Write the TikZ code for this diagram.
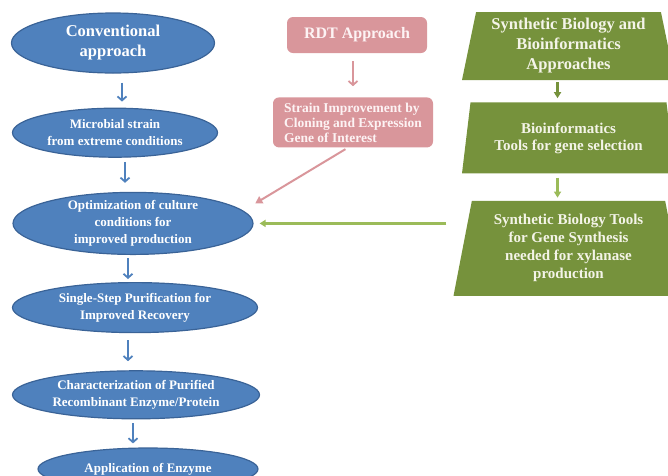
\documentclass[tikz,border=0pt]{standalone}
\usepackage{fontspec}
\setmainfont{Liberation Serif}
\usetikzlibrary{shapes.geometric, arrows.meta, positioning}
\definecolor{ellblue}{HTML}{4F81BD}
\definecolor{ellline}{HTML}{3A6397}
\definecolor{rdtpink}{HTML}{D9969B}
\definecolor{rdttext}{HTML}{FDF3F4}
\definecolor{syngreen}{HTML}{76923C}
\definecolor{synlight}{HTML}{9BBB59}
\definecolor{syntext}{HTML}{F4F4E8}

\tikzset{
  convell/.style={ellipse, draw=ellline, line width=1.2pt, fill=ellblue, text=white,
    font=\bfseries\fontsize{13}{17}\selectfont, align=center, inner xsep=0pt, inner ysep=-2pt},
  rdtbox/.style={rectangle, rounded corners=6pt, fill=rdtpink, text=rdttext,
    font=\bfseries\fontsize{13.5}{15}\selectfont},
  synbox/.style={trapezium, trapezium left angle=77, trapezium right angle=77,
    trapezium stretches body, fill=syngreen, text=syntext, align=center,
    inner xsep=3pt, inner ysep=3pt},
  blueflow/.style={-{Straight Barb[length=4pt,width=9pt]}, draw=ellblue, line width=1.8pt},
  pinkflow/.style={draw=rdtpink, line width=2pt},
  greenflow/.style={draw=syngreen, line width=2.4pt, -{Triangle[length=6pt,width=7pt]}},
}

\begin{document}
\begin{tikzpicture}[x=1pt, y=-1pt]
    \useasboundingbox (0,0) rectangle (668,475);

    % conventional approach
    \node[convell, minimum width=203pt, minimum height=60pt,
      font=\bfseries\fontsize{16.5}{20}\selectfont] (conv) at (113,43) {Conventional\\approach};
    \node[convell, minimum width=205pt, minimum height=49pt] (strain) [below=34pt of conv, xshift=2pt]
      {Microbial strain\\from extreme conditions};
    \node[convell, minimum width=240pt, minimum height=62pt] (optim) [below=34pt of strain, xshift=18pt]
      {Optimization of culture\\conditions for\\improved production};
    \node[convell, minimum width=245pt, minimum height=50pt] (purif) [below=27pt of optim, xshift=2pt]
      {Single-Step Purification for\\Improved Recovery};
    \node[convell, minimum width=247pt, minimum height=48pt] (charac) [below=37pt of purif, xshift=1pt]
      {Characterization of Purified\\Recombinant Enzyme/Protein};
    \node[convell, minimum width=220pt, minimum height=42pt] (appl) [below=28pt of charac, xshift=12pt]
      {Application of Enzyme};

    % RDT approach
    \node[rdtbox, minimum width=140pt, minimum height=36pt,
      font=\bfseries\fontsize{16}{19}\selectfont] (rdt) at (357,35) {RDT Approach};
    \node[rdtbox, minimum width=160pt, minimum height=50pt, inner xsep=9pt, align=left]
      (clone) [below=44pt of rdt, xshift=-4pt]
      {Strain Improvement by\\Cloning and Expression\\Gene of Interest};

    % synthetic biology and bioinformatics
    \node[synbox, minimum width=213pt, minimum height=68pt,
      font=\bfseries\fontsize{16.5}{20}\selectfont] (synbio) at (568.5,46)
      {Synthetic Biology and\\Bioinformatics\\Approaches};
    \node[synbox, minimum width=213pt, minimum height=71pt,
      font=\bfseries\fontsize{15}{17}\selectfont] (bioinf) [below=22pt of synbio]
      {Bioinformatics\\Tools for gene selection};
    \node[synbox, minimum width=230pt, minimum height=95pt, trapezium left angle=76, trapezium right angle=76,
      font=\bfseries\fontsize{15}{18}\selectfont] (gensyn) [below=27pt of bioinf]
      {Synthetic Biology Tools\\for Gene Synthesis\\needed for xylanase\\production};

    % arrows
    \draw[blueflow, shorten <=9pt, shorten >=6pt] ([xshift=9pt]conv.south) -- ([xshift=9pt]conv.south |- strain.north);
    \draw[blueflow, shorten <=4pt, shorten >=9pt] ([xshift=10pt]strain.south) -- ([xshift=10pt]strain.south |- optim.north);
    \draw[blueflow, shorten <=3pt, shorten >=3pt] ([xshift=-5pt]optim.south) -- ([xshift=-5pt]optim.south |- purif.north);
    \draw[blueflow, shorten <=7pt, shorten >=9pt] ([xshift=-7pt]purif.south) -- ([xshift=-7pt]purif.south |- charac.north);
    \draw[blueflow, shorten <=4pt, shorten >=4pt] ([xshift=-3pt]charac.south) -- ([xshift=-3pt]charac.south |- appl.north);

    \draw[blueflow, draw=rdtpink, shorten <=8pt, shorten >=11pt] (rdt.south -| clone.north) -- (clone.north);
    \draw[pinkflow, -{Triangle[length=7pt,width=8pt]}, shorten <=3pt, shorten >=2pt]
      ([xshift=-5pt]clone.south) -- ([yshift=19pt]optim.east);

    \draw[greenflow, shorten <=2pt, shorten >=4pt] ([xshift=-11pt]synbio.south) -- ([xshift=-11pt]bioinf.north);
    \draw[greenflow, draw=synlight, shorten <=4pt, shorten >=3pt] ([xshift=-11pt]bioinf.south) -- ([xshift=-11pt]gensyn.north);
    \draw[greenflow, draw=synlight, line width=2.8pt, shorten <=16pt, shorten >=6pt]
      (gensyn.west |- optim.east) -- (optim.east);
\end{tikzpicture}
\end{document}
